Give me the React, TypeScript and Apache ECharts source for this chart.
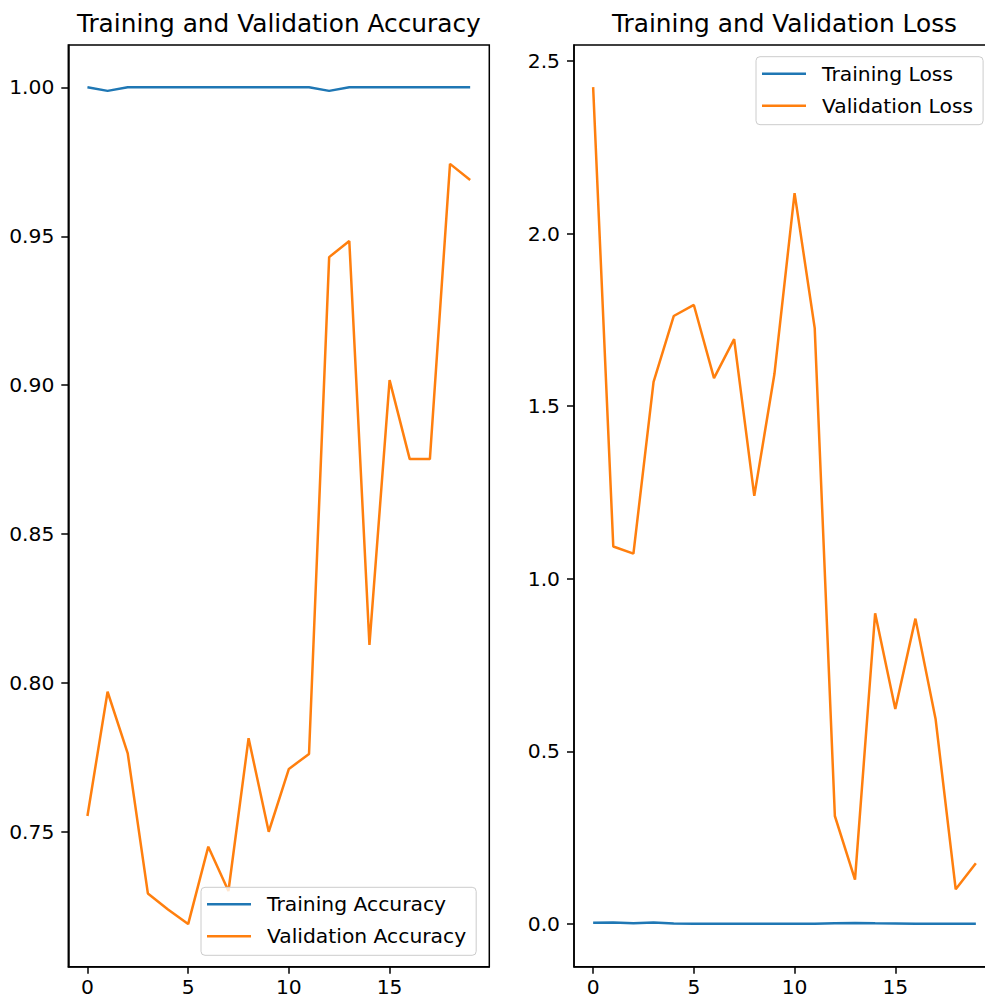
import React, { useEffect, useRef } from "react";
import * as echarts from "echarts";

const epochs = [0, 1, 2, 3, 4, 5, 6, 7, 8, 9, 10, 11, 12, 13, 14, 15, 16, 17, 18, 19];
const trainAcc = [1.0, 0.9988, 1.0, 1.0, 1.0, 1.0, 1.0, 1.0, 1.0, 1.0, 1.0, 1.0, 0.9988, 1.0, 1.0, 1.0, 1.0, 1.0, 1.0, 1.0];
const valAcc = [0.7554, 0.7971, 0.7764, 0.7294, 0.724, 0.7191, 0.7451, 0.7302, 0.7815, 0.7501, 0.7712, 0.7762, 0.943, 0.9484, 0.8128, 0.9017, 0.8752, 0.8752, 0.9743, 0.9689];
const trainLoss = [0.0035, 0.0045, 0.002, 0.0045, 0.0015, 0.001, 0.001, 0.0005, 0.0005, 0.001, 0.001, 0.0008, 0.002, 0.003, 0.002, 0.0015, 0.001, 0.001, 0.001, 0.001];
const valLoss = [2.424, 1.0935, 1.0727, 1.57, 1.761, 1.793, 1.581, 1.694, 1.24, 1.593, 2.117, 1.726, 0.3128, 0.1286, 0.9, 0.623, 0.8845, 0.594, 0.1005, 0.176];
const xTicks = [0, 5, 10, 15];
const accTicks = [0.75, 0.8, 0.85, 0.9, 0.95, 1.0];
const lossTicks = [0, 0.5, 1.0, 1.5, 2.0, 2.5];
const titles = ["Training and Validation Accuracy", "Training and Validation Loss"];

const BLUE = "#1f77b4";
const ORANGE = "#ff7f0e";
const FONT = "DejaVu Sans";

export default function App() {
  const ref = useRef<HTMLDivElement>(null);
  useEffect(() => {
    if (!ref.current) return;
    const chart = echarts.init(ref.current, null, { renderer: "svg" });
    const pairs = (ys: number[]) => epochs.map((x, i) => [x, ys[i]]);
    const axisCommon = {
      axisLine: { show: true, onZero: false, lineStyle: { color: "#000", width: 1.5 } },
      axisTick: { show: true, inside: false, length: 7, lineStyle: { color: "#000", width: 1.5 } },
      splitLine: { show: false },
    };
    const labelStyle = { color: "#000", fontSize: 20.3, fontFamily: FONT };
    const legendCommon = {
      orient: "vertical" as const,
      icon: "rect",
      itemWidth: 44,
      itemHeight: 2.5,
      itemGap: 12,
      padding: [7, 10, 9, 6],
      backgroundColor: "rgba(255,255,255,0.8)",
      borderColor: "#cccccc",
      borderWidth: 1,
      borderRadius: 4,
      textStyle: { color: "#000", fontSize: 20.3, fontFamily: FONT, lineHeight: 20, padding: [0, 0, 0, 11] },
    };
    const titleStyle = { color: "#000", fontSize: 24.8, fontWeight: "normal", fontFamily: FONT };
    chart.setOption({
      animation: false,
      backgroundColor: "#fff",
      title: [
        { text: titles[0], left: 278.8, top: 11, textAlign: "center", padding: 0, textStyle: titleStyle },
        { text: titles[1], left: 784.5, top: 11, textAlign: "center", padding: 0, textStyle: titleStyle },
      ],
      grid: [
        { left: 68.3, top: 45, width: 421, height: 921.7, show: true, borderColor: "#000", borderWidth: 1.5, backgroundColor: "transparent" },
        { left: 574, top: 45, width: 421, height: 921.7, show: true, borderColor: "#000", borderWidth: 1.5, backgroundColor: "transparent" },
      ],
      xAxis: [0, 1].map((g) => ({
        type: "value",
        gridIndex: g,
        min: -0.95,
        max: 19.95,
        ...axisCommon,
        axisTick: { ...axisCommon.axisTick, customValues: xTicks },
        axisLabel: { ...labelStyle, margin: 10, customValues: xTicks, formatter: (v: number) => String(v) },
      })),
      yAxis: [
        {
          type: "value",
          gridIndex: 0,
          min: 0.7048,
          max: 1.0142,
          ...axisCommon,
          axisTick: { ...axisCommon.axisTick, customValues: accTicks },
          axisLabel: { ...labelStyle, margin: 14, customValues: accTicks, formatter: (v: number) => v.toFixed(2) },
        },
        {
          type: "value",
          gridIndex: 1,
          min: -0.1237,
          max: 2.546,
          ...axisCommon,
          axisTick: { ...axisCommon.axisTick, customValues: lossTicks },
          axisLabel: { ...labelStyle, margin: 14, customValues: lossTicks, formatter: (v: number) => v.toFixed(1) },
        },
      ],
      legend: [
        { ...legendCommon, data: ["Training Accuracy", "Validation Accuracy"], left: 201, top: 887.3 },
        { ...legendCommon, data: ["Training Loss", "Validation Loss"], left: 756, top: 56.7 },
      ],
      series: [
        { name: "Training Accuracy", type: "line", xAxisIndex: 0, yAxisIndex: 0, data: pairs(trainAcc), showSymbol: false, lineStyle: { color: BLUE, width: 2.5 }, itemStyle: { color: BLUE } },
        { name: "Validation Accuracy", type: "line", xAxisIndex: 0, yAxisIndex: 0, data: pairs(valAcc), showSymbol: false, lineStyle: { color: ORANGE, width: 2.5 }, itemStyle: { color: ORANGE } },
        { name: "Training Loss", type: "line", xAxisIndex: 1, yAxisIndex: 1, data: pairs(trainLoss), showSymbol: false, lineStyle: { color: BLUE, width: 2.5 }, itemStyle: { color: BLUE } },
        { name: "Validation Loss", type: "line", xAxisIndex: 1, yAxisIndex: 1, data: pairs(valLoss), showSymbol: false, lineStyle: { color: ORANGE, width: 2.5 }, itemStyle: { color: ORANGE } },
      ],
    });
    return () => chart.dispose();
  }, []);
  return <div ref={ref} style={{ position: "fixed", left: 0, top: 0, width: 1000, height: 1001 }} />;
}
